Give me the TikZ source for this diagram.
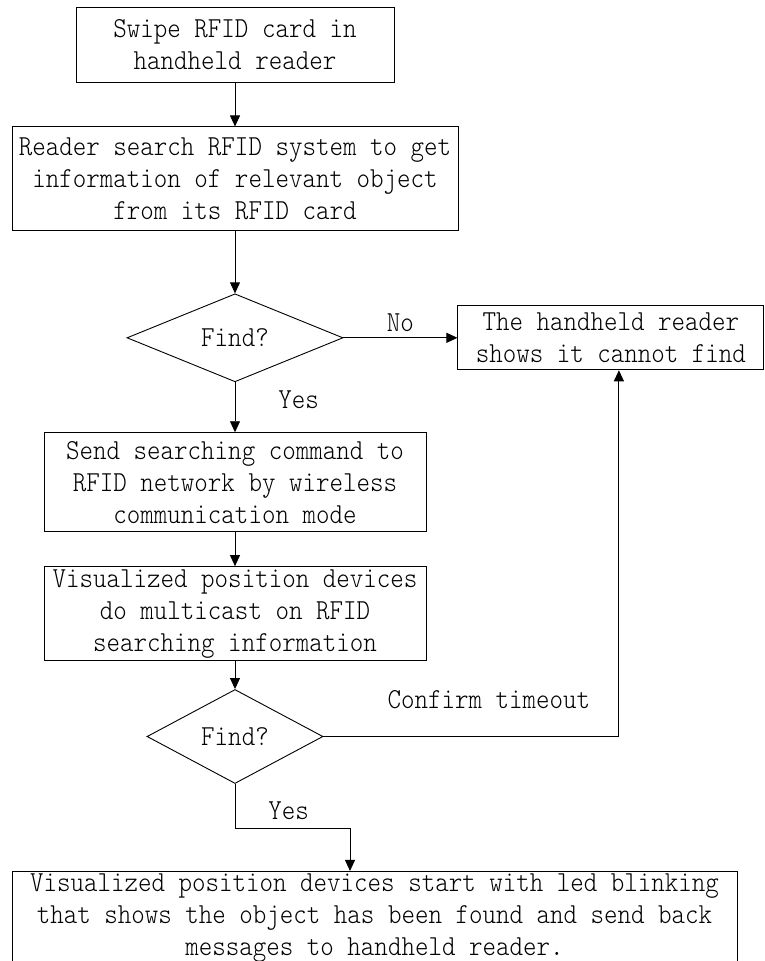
\documentclass[tikz,border=0pt]{standalone}
\usepackage{fontspec}
\usepackage{tikz}
\usetikzlibrary{arrows.meta,positioning,shapes.geometric}
\newfontfamily\flowmono[FakeStretch=0.887]{lmmonolt10-regular.otf}
\newcommand{\flowfont}{\flowmono\fontsize{29}{32}\selectfont}

\begin{document}
\begin{tikzpicture}[x=1pt, y=-1pt,
  box/.style={draw, line width=0.9pt, align=center, inner sep=0pt, font=\flowfont},
  dec/.style={draw, diamond, aspect=2.4, line width=0.9pt, inner sep=0pt, font=\flowfont},
  lab/.style={font=\flowfont, inner sep=0pt},
  arr/.style={-{Triangle[length=11pt, width=10pt]}, line width=0.9pt}]
  \useasboundingbox (0,0) rectangle (765,961);

  \node[box, minimum width=318pt, minimum height=75pt] (swipe) at (235,44.5) {Swipe RFID card in\\handheld reader};
  \node[box, minimum width=446pt, minimum height=104pt, below=44pt of swipe] (search) {Reader search RFID system to get\\information of relevant object\\from its RFID card};
  \node[dec, minimum width=216pt, minimum height=88pt, below=62pt of search] (find1) {Find?};
  \node[box, minimum width=306pt, minimum height=64pt, right=114pt of find1] (nofind) {The handheld reader\\shows it cannot find};
  \node[box, minimum width=382pt, minimum height=99pt, below=50pt of find1] (send) {Send searching command to\\RFID network by wireless\\communication mode};
  \node[box, minimum width=382pt, minimum height=94pt, below=34pt of send] (multi) {Visualized position devices\\do multicast on RFID\\searching information};
  \node[dec, minimum width=176pt, minimum height=94pt, below=28pt of multi] (find2) {Find?};
  \node[box, minimum width=725pt, minimum height=94pt, below=87pt of find2, xshift=139.5pt] (found) {Visualized position devices start with led blinking\\that shows the object has been found and send back\\messages to handheld reader.};

  \draw[arr] (swipe) -- (search);
  \draw[arr] (search) -- (find1);
  \draw[arr] (find1) -- node[lab, above=6pt] {No} (nofind);
  \draw[arr] (find1) -- node[lab, pos=0.34, right=43pt] {Yes} (send);
  \draw[arr] (send) -- (multi);
  \draw[arr] (multi) -- (find2);
  \draw[arr] (find2.east) -| node[lab, pos=0.28, above=27pt] {Confirm timeout} ([xshift=8pt]nofind.south);
  \draw[arr] (find2.south) -- node[lab, pos=0.6, right=33pt] {Yes} ++(0,44) -| ([xshift=-24.5pt]found.north);
\end{tikzpicture}
\end{document}
